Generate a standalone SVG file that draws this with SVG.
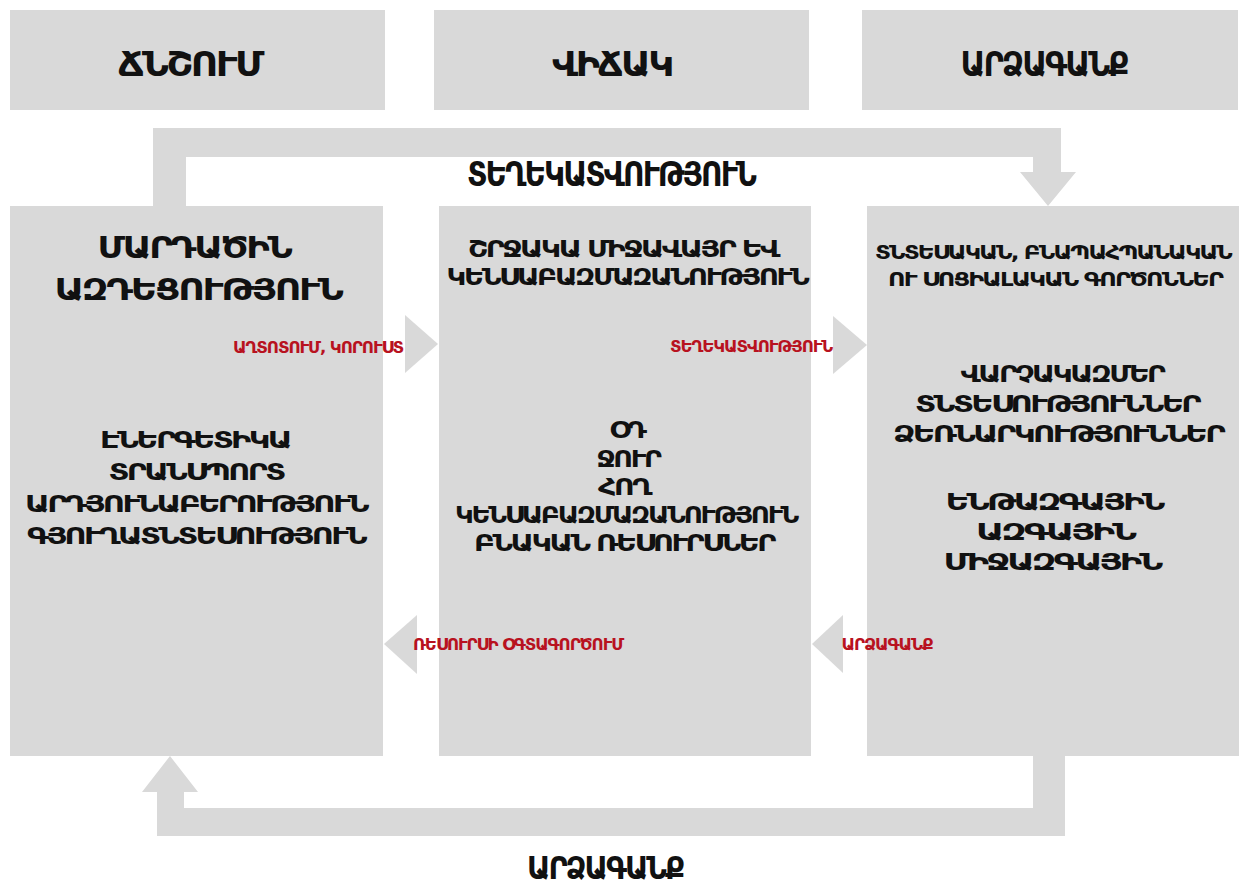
<svg xmlns="http://www.w3.org/2000/svg" width="1251" height="887" viewBox="0 0 1251 887">
<style>
.box{fill:#d9d9d9}
.conn{fill:#d9d9d9}
text{text-anchor:middle;fill:#111}
.hd{font-family:"DejaVu Sans Condensed","DejaVu Sans",sans-serif;font-weight:bold;font-size:34px;letter-spacing:-2px}
.ttl{font-family:"DejaVu Sans",sans-serif;font-weight:bold;font-size:31px;letter-spacing:-2px}
.lst{font-family:"DejaVu Sans",sans-serif;font-weight:bold;font-size:23px;letter-spacing:-2px}
.sub{font-family:"DejaVu Sans",sans-serif;font-weight:bold;font-size:19px;letter-spacing:-1.5px}
.lbl{font-family:"DejaVu Sans",sans-serif;font-weight:bold;font-size:15px;letter-spacing:-1px;fill:#b8121f}
</style>
<rect width="1251" height="887" fill="#ffffff"/>
<g id="head-pressure"><rect class="box" x="10" y="10" width="375" height="100"/><text class="hd" x="190" y="76" textLength="144" lengthAdjust="spacingAndGlyphs">ՃՆՇՈՒՄ</text></g>
<g id="head-state"><rect class="box" x="434" y="10" width="375" height="100"/><text class="hd" x="612" y="76" textLength="120" lengthAdjust="spacingAndGlyphs">ՎԻՃԱԿ</text></g>
<g id="head-response"><rect class="box" x="862" y="10" width="376" height="100"/><text class="hd" x="1044" y="76" textLength="167" lengthAdjust="spacingAndGlyphs">ԱՐՁԱԳԱՆՔ</text></g>

<g id="node-human">
<rect class="box" x="10" y="206" width="373" height="550"/>
<text class="ttl" x="194" y="258" textLength="193" lengthAdjust="spacingAndGlyphs">ՄԱՐԴԱԾԻՆ</text>
<text class="ttl" x="198" y="300" textLength="287" lengthAdjust="spacingAndGlyphs">ԱԶԴԵՑՈՒԹՅՈՒՆ</text>
<text class="lst" x="195" y="448" textLength="190" lengthAdjust="spacingAndGlyphs">ԷՆԵՐԳԵՏԻԿԱ</text>
<text class="lst" x="196" y="480" textLength="175" lengthAdjust="spacingAndGlyphs">ՏՐԱՆՍՊՈՐՏ</text>
<text class="lst" x="196" y="512" textLength="342" lengthAdjust="spacingAndGlyphs">ԱՐԴՅՈՒՆԱԲԵՐՈՒԹՅՈՒՆ</text>
<text class="lst" x="196" y="544" textLength="338" lengthAdjust="spacingAndGlyphs">ԳՅՈՒՂԱՏՆՏԵՍՈՒԹՅՈՒՆ</text>
</g>

<g id="node-environment">
<rect class="box" x="439" y="206" width="372" height="550"/>
<text class="lst" x="623" y="257" textLength="310" lengthAdjust="spacingAndGlyphs">ՇՐՋԱԿԱ ՄԻՋԱՎԱՅՐ ԵՎ</text>
<text class="lst" x="627" y="285" textLength="361" lengthAdjust="spacingAndGlyphs">ԿԵՆՍԱԲԱԶՄԱԶԱՆՈՒԹՅՈՒՆ</text>
<text class="lst" x="627" y="438" textLength="35" lengthAdjust="spacingAndGlyphs">ՕԴ</text>
<text class="lst" x="628" y="467" textLength="63" lengthAdjust="spacingAndGlyphs">ՋՈՒՐ</text>
<text class="lst" x="624" y="495" textLength="52" lengthAdjust="spacingAndGlyphs">ՀՈՂ</text>
<text class="lst" x="626" y="523" textLength="342" lengthAdjust="spacingAndGlyphs">ԿԵՆՍԱԲԱԶՄԱԶԱՆՈՒԹՅՈՒՆ</text>
<text class="lst" x="624" y="551" textLength="300" lengthAdjust="spacingAndGlyphs">ԲՆԱԿԱՆ ՌԵՍՈՒՐՍՆԵՐ</text>
</g>

<g id="node-factors">
<rect class="box" x="867" y="206" width="372" height="550"/>
<text class="sub" x="1053" y="259" textLength="356" lengthAdjust="spacingAndGlyphs">ՏՆՏԵՍԱԿԱՆ, ԲՆԱՊԱՀՊԱՆԱԿԱՆ</text>
<text class="sub" x="1055" y="286" textLength="334" lengthAdjust="spacingAndGlyphs">ՈՒ ՍՈՑԻԱԼԱԿԱՆ ԳՈՐԾՈՆՆԵՐ</text>
<text class="lst" x="1062" y="382" textLength="203" lengthAdjust="spacingAndGlyphs">ՎԱՐՉԱԿԱԶՄԵՐ</text>
<text class="lst" x="1057" y="412" textLength="284" lengthAdjust="spacingAndGlyphs">ՏՆՏԵՍՈՒԹՅՈՒՆՆԵՐ</text>
<text class="lst" x="1058" y="442" textLength="330" lengthAdjust="spacingAndGlyphs">ՁԵՌՆԱՐԿՈՒԹՅՈՒՆՆԵՐ</text>
<text class="lst" x="1054" y="510" textLength="217" lengthAdjust="spacingAndGlyphs">ԵՆԹԱԶԳԱՅԻՆ</text>
<text class="lst" x="1055" y="540" textLength="158" lengthAdjust="spacingAndGlyphs">ԱԶԳԱՅԻՆ</text>
<text class="lst" x="1052" y="570" textLength="217" lengthAdjust="spacingAndGlyphs">ՄԻՋԱԶԳԱՅԻՆ</text>
</g>

<g id="connectors">
<polygon class="conn" points="153,206 153,128 1061,128 1061,172 1076,172 1048,206 1020,172 1033,172 1033,157 186,157 186,206"/>
<polygon class="conn" points="1065,756 1065,836 157,836 157,792 142,792 170,756 198,792 184,792 184,808 1033,808 1033,756"/>
<polygon class="conn" points="405,315 438,344 405,373"/>
<polygon class="conn" points="833,316 867,345 833,374"/>
<polygon class="conn" points="417,615 384,644 417,674"/>
<polygon class="conn" points="843,615 812,644 843,673"/>
<text class="hd" x="611" y="186" textLength="288" lengthAdjust="spacingAndGlyphs">ՏԵՂԵԿԱՏՎՈՒԹՅՈՒՆ</text>
<text class="hd" x="605" y="879" style="font-size:32px" textLength="156" lengthAdjust="spacingAndGlyphs">ԱՐՁԱԳԱՆՔ</text>
<text class="lbl" x="318" y="353" textLength="170" lengthAdjust="spacingAndGlyphs">ԱՂՏՈՏՈՒՄ, ԿՈՐՈՒՍՏ</text>
<text class="lbl" x="751" y="352" textLength="162" lengthAdjust="spacingAndGlyphs">ՏԵՂԵԿԱՏՎՈՒԹՅՈՒՆ</text>
<text class="lbl" x="518" y="650" textLength="210" lengthAdjust="spacingAndGlyphs">ՌԵՍՈՒՐՍԻ ՕԳՏԱԳՈՐԾՈՒՄ</text>
<text class="lbl" x="887" y="650" textLength="91" lengthAdjust="spacingAndGlyphs">ԱՐՁԱԳԱՆՔ</text>
</g>
</svg>
